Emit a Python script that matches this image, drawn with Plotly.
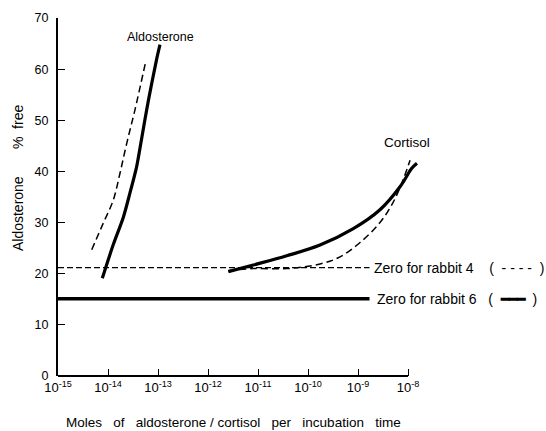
import plotly.graph_objects as go

# ---- data ----
ald_r6_x = [7.69e-15, 1.276e-14, 2.02e-14, 2.75e-14, 3.75e-14, 4.72e-14, 6.4e-14, 9.42e-14, 1.096e-13]
ald_r6_y = [19.1, 25.7, 31.0, 35.8, 41.0, 46.5, 53.8, 62.0, 64.8]

ald_r4_x = [4.72e-15, 8.05e-15, 1.276e-14, 1.74e-14, 2.37e-14, 3.47e-14, 5.68e-14]
ald_r4_y = [24.7, 29.9, 34.4, 39.7, 45.5, 52.1, 61.5]

cort_r6_x = [2.55e-12, 8.05e-12, 3.75e-11, 1.74e-10, 8.05e-10, 2.75e-9, 6.92e-9, 1.19e-8, 1.51e-8]
cort_r6_y = [20.4, 21.7, 23.5, 25.6, 28.8, 32.5, 37.0, 40.6, 41.6]

cort_r4_x = [2.51e-12, 7.94e-12, 3.8e-11, 1.74e-10, 4.37e-10, 1.1e-9, 2.75e-9, 5.01e-9, 7.59e-9, 1.1e-8]
cort_r4_y = [20.6, 21.0, 21.0, 21.9, 23.3, 26.1, 30.0, 33.9, 37.8, 42.2]

zero_x = [1e-15, 1.7e-9]
zero_r4 = 21.2
zero_r6 = 15.1

x_tickvals = [1e-15, 1e-14, 1e-13, 1e-12, 1e-11, 1e-10, 1e-9, 1e-8]
x_ticktext = ["10<sup>-15</sup>", "10<sup>-14</sup>", "10<sup>-13</sup>", "10<sup>-12</sup>",
              "10<sup>-11</sup>", "10<sup>-10</sup>", "10<sup>-9</sup>", "10<sup>-8</sup>"]
y_tickvals = [0, 10, 20, 30, 40, 50, 60, 70]

FONT = "Liberation Sans, Arial, sans-serif"
DASH = "7px,4px"

fig = go.Figure()
fig.add_trace(go.Scatter(x=zero_x, y=[zero_r4, zero_r4], mode="lines",
                         line=dict(color="black", width=1.4, dash="6px,3px")))
fig.add_trace(go.Scatter(x=zero_x, y=[zero_r6, zero_r6], mode="lines",
                         line=dict(color="black", width=3.5)))
fig.add_trace(go.Scatter(x=ald_r4_x, y=ald_r4_y, mode="lines",
                         line=dict(color="black", width=1.5, dash=DASH, shape="spline")))
fig.add_trace(go.Scatter(x=ald_r6_x, y=ald_r6_y, mode="lines",
                         line=dict(color="black", width=3.2, shape="spline", smoothing=0.8)))
fig.add_trace(go.Scatter(x=cort_r4_x, y=cort_r4_y, mode="lines",
                         line=dict(color="black", width=1.5, dash=DASH, shape="spline")))
fig.add_trace(go.Scatter(x=cort_r6_x, y=cort_r6_y, mode="lines",
                         line=dict(color="black", width=3.2, shape="spline")))

ann_font = dict(family=FONT, size=12.5, color="black")
side_font = dict(family=FONT, size=14, color="black")
annotations = [
    dict(x=-12.96, y=66.3, xref="x", yref="y", text="Aldosterone", showarrow=False,
         font=ann_font, xanchor="center", yanchor="middle"),
    dict(x=-8.02, y=45.6, xref="x", yref="y", text="Cortisol", showarrow=False,
         font=dict(family=FONT, size=13.5, color="black"), xanchor="center", yanchor="middle"),
    dict(x=-8.72, y=zero_r4, xref="x", yref="y", text="Zero for rabbit 4    (  - - - -  )",
         showarrow=False, font=side_font, xanchor="left", yanchor="middle"),
    dict(x=-8.66, y=zero_r6, xref="x", yref="y", text="Zero for rabbit 6   (  <b>━━━</b>  )",
         showarrow=False, font=side_font, xanchor="left", yanchor="middle"),
    dict(x=-0.108, y=0.553, xref="paper", yref="paper", text="Aldosterone       %  free",
         textangle=-90, showarrow=False, font=dict(family=FONT, size=14, color="black"),
         xanchor="center", yanchor="middle"),
    dict(x=0.473, y=-0.131, xref="paper", yref="paper",
         text="Moles   of   aldosterone / cortisol   per   incubation   time",
         showarrow=False, font=dict(family=FONT, size=13.5, color="black"),
         xanchor="center", yanchor="middle"),
]

fig.update_layout(
    width=546, height=431,
    margin=dict(l=58, r=118, t=18, b=55),
    paper_bgcolor="white", plot_bgcolor="white",
    showlegend=False,
    annotations=annotations,
    shapes=[dict(type="line", xref="paper", yref="paper", x0=0, x1=7 / 7.4, y0=0, y1=0,
                 line=dict(color="black", width=2))],
)
fig.update_xaxes(type="log", range=[-15, -7.6], showgrid=False, zeroline=False, showline=False,
                 tickvals=x_tickvals, ticktext=x_ticktext, ticks="inside", ticklen=7,
                 tickwidth=1, tickcolor="black", ticklabelstandoff=2,
                 tickfont=dict(family=FONT, size=13, color="black"))
fig.update_yaxes(range=[0, 70], showgrid=False, zeroline=False, showline=True, linewidth=2,
                 linecolor="black", tickvals=y_tickvals, ticks="inside", ticklen=7,
                 tickwidth=1, tickcolor="black", ticklabelstandoff=5,
                 tickfont=dict(family=FONT, size=12.5, color="black"))

fig.write_html("out.html", config={"displayModeBar": False},
               post_script="document.body.style.margin='0';document.body.style.overflow='hidden';")
